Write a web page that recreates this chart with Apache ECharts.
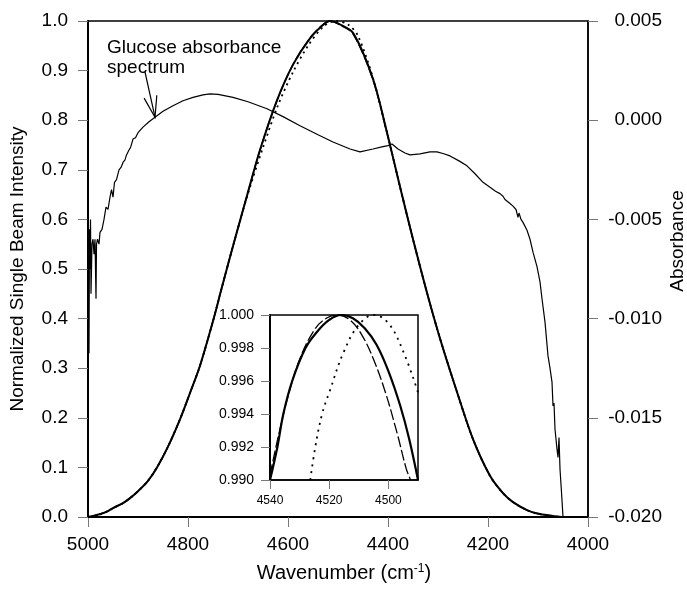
<!DOCTYPE html>
<html>
<head>
<meta charset="utf-8">
<script src="https://cdn.jsdelivr.net/npm/echarts@6/dist/echarts.min.js"></script>
<style>
  html, body { margin: 0; background: #fff; }
  #chart { width: 687px; height: 593px; }
</style>
</head>
<body>
<div id="chart"></div>
<script>
// main x axis ticks (wavenumber, cm-1)
const xTicks = [5000, 4800, 4600, 4400, 4200, 4000];
const insetXTicks = [4540, 4520, 4500];

// glucose absorbance spectrum (right axis)
const glucoseWn = [5000, 4999, 4998, 4997, 4996, 4995, 4994, 4992, 4990, 4988, 4986, 4984, 4983, 4981, 4978, 4976, 4972, 4968, 4964, 4960,
  4956, 4953, 4950, 4947, 4943, 4938, 4934, 4930, 4926, 4923, 4918, 4915, 4910, 4905, 4900, 4890, 4878, 4866, 4850, 4830,
  4810, 4790, 4770, 4756, 4740, 4710, 4680, 4642, 4610, 4576, 4540, 4510, 4476, 4456, 4430, 4410, 4400, 4392, 4380, 4366,
  4356, 4336, 4316, 4302, 4290, 4276, 4258, 4242, 4226, 4210, 4196, 4185, 4176, 4170, 4166, 4162, 4156, 4150, 4144, 4140,
  4138, 4134, 4130, 4122, 4116, 4110, 4102, 4096, 4092, 4086, 4080, 4076, 4072, 4070, 4068, 4066, 4062, 4060, 4058, 4056,
  4053, 4050, 4000];
const glucoseAbs = [-0.0045, -0.0100, -0.01175, -0.0055, -0.0075, -0.0050, -0.00875, -0.00625, -0.0060, -0.00675, -0.0060, -0.0090, -0.00625, -0.0060, -0.00625, -0.00565, -0.0055, -0.0050, -0.00438, -0.0045,
  -0.00388, -0.0035, -0.00388, -0.00313, -0.0030, -0.0025, -0.00238, -0.00213, -0.0020, -0.00175, -0.0015, -0.00138, -0.00095, -0.00088, -0.00063, -0.00035, -0.00008, 0.00015, 0.00045, 0.00073,
  0.00098, 0.00115, 0.00128, 0.00133, 0.0013, 0.00115, 0.00093, 0.00058, 0.00018, -0.00028, -0.00073, -0.0011, -0.00145, -0.0016, -0.00145, -0.00133, -0.00128, -0.0012, -0.00145, -0.00165,
  -0.00175, -0.0017, -0.0016, -0.0016, -0.00168, -0.0018, -0.00205, -0.0023, -0.0027, -0.00313, -0.00338, -0.00358, -0.0037, -0.00383, -0.0040, -0.00398, -0.0042, -0.00433, -0.0045, -0.0049,
  -0.00468, -0.0050, -0.00515, -0.00555, -0.0060, -0.00665, -0.00738, -0.00815, -0.0090, -0.01018, -0.01188, -0.0125, -0.0132, -0.0144, -0.01425, -0.01558, -0.01658, -0.0170, -0.0160, -0.01758,
  -0.01875, -0.0200, -0.0200];

// normalized single beam intensity: solid, long-dash and dotted curves (left axis)
const beamWn = [5000, 4990, 4975, 4960, 4950, 4930, 4916, 4900, 4880, 4862, 4840, 4816, 4796, 4776, 4750, 4733, 4709, 4680, 4656, 4622,
  4590, 4556, 4530, 4516, 4500, 4470, 4430, 4402, 4376, 4350, 4322, 4296, 4262, 4230, 4196, 4170, 4150, 4120, 4096, 4070, 4050, 4000];
const solidBeam = [0, 0.002, 0.006, 0.012, 0.018, 0.028, 0.038, 0.052, 0.073, 0.10, 0.142, 0.197, 0.25, 0.305, 0.395, 0.46, 0.55, 0.655, 0.74, 0.84,
  0.912, 0.965, 0.992, 1.0, 0.995, 0.976, 0.883, 0.775, 0.666, 0.56, 0.452, 0.36, 0.252, 0.157, 0.083, 0.048, 0.03, 0.013, 0.006, 0.002, 0, 0];
const dashBeam = [0, 0.002, 0.006, 0.012, 0.018, 0.028, 0.038, 0.052, 0.073, 0.10, 0.142, 0.197, 0.25, 0.305, 0.395, 0.46, 0.55, 0.655, 0.74, 0.84,
  0.912, 0.966, 0.993, 1.0, 0.994, 0.974, 0.881, 0.774, 0.666, 0.56, 0.452, 0.36, 0.252, 0.157, 0.083, 0.048, 0.03, 0.013, 0.006, 0.002, 0, 0];
const dotWn = [5000, 4990, 4975, 4960, 4950, 4930, 4916, 4900, 4880, 4862, 4840, 4816, 4796, 4776, 4750, 4733, 4709, 4680, 4650, 4620,
  4590, 4560, 4530, 4505, 4480, 4460, 4430, 4402, 4376, 4350, 4322, 4296, 4262, 4230, 4196, 4170, 4150, 4120, 4096, 4070, 4050, 4000];
const dotBeam = [0, 0.002, 0.006, 0.012, 0.018, 0.028, 0.038, 0.052, 0.073, 0.10, 0.142, 0.197, 0.25, 0.305, 0.395, 0.46, 0.55, 0.652, 0.745, 0.83,
  0.897, 0.95, 0.988, 1.0, 0.993, 0.97, 0.885, 0.775, 0.666, 0.56, 0.452, 0.36, 0.252, 0.157, 0.083, 0.048, 0.03, 0.013, 0.006, 0.002, 0, 0];

// inset: close-up of the peak
const insetSolidWn = [4540, 4537.5, 4535.5, 4532.5, 4528, 4524, 4520, 4516, 4512, 4508, 4504, 4500, 4496, 4493, 4490];
const insetSolid = [0.990, 0.992, 0.994, 0.996, 0.998, 0.999, 0.9997, 1.000, 0.9998, 0.9992, 0.9982, 0.9966, 0.9945, 0.9925, 0.990];
const insetDashWn = [4540, 4537, 4534, 4530, 4525, 4521, 4517, 4513, 4509, 4505, 4501, 4497, 4494, 4492.5];
const insetDash = [0.9903, 0.9928, 0.995, 0.9973, 0.9991, 0.9998, 1.000, 0.9997, 0.9988, 0.9973, 0.9953, 0.9928, 0.9907, 0.990];
const insetDotWn = [4526.4, 4524.7, 4522.4, 4520, 4515, 4510, 4505, 4500, 4495, 4490];
const insetDot = [0.990, 0.992, 0.994, 0.9953, 0.9978, 0.9994, 1.000, 0.9995, 0.9978, 0.9953];

const zip = (xs, ys) => xs.map((x, i) => [x, ys[i]]);
const FONT = '"Liberation Sans", Arial, sans-serif';

const chart = echarts.init(document.getElementById('chart'));

const tick = { show: true, length: 10, lineStyle: { color: '#777', width: 1 } };
const curve = (name, xi, yi, data, width, type, smooth) => ({
  name, type: 'line', xAxisIndex: xi, yAxisIndex: yi, data, symbol: 'none',
  smooth, lineStyle: { color: '#000', width, type }
});

const option = {
  animation: false,
  backgroundColor: '#fff',
  textStyle: { fontFamily: FONT, color: '#000' },
  grid: [
    { left: 88, top: 21, right: 99, bottom: 76, outerBoundsMode: 'none', containLabel: false,
      show: true, borderColor: '#000', borderWidth: 1.5, backgroundColor: 'transparent' },
    { left: 270, top: 315, width: 148, height: 165, outerBoundsMode: 'none', containLabel: false,
      show: true, borderColor: '#000', borderWidth: 1.5, backgroundColor: '#fff' }
  ],
  xAxis: [
    {
      gridIndex: 0, type: 'value', min: 4000, max: 5000, interval: 200, inverse: true,
      axisLine: { onZero: false, lineStyle: { color: '#000', width: 2 } },
      axisTick: tick,
      axisLabel: { fontSize: 19, color: '#000', margin: 18, fontFamily: FONT,
        customValues: xTicks, formatter: v => String(v) },
      splitLine: { show: false },
      name: 'Wavenumber (cm{sup|-1})', nameLocation: 'middle', nameGap: 46,
      nameTextStyle: { fontSize: 20, color: '#000', fontFamily: FONT, padding: [0, 0, 0, 12],
        rich: { sup: { fontSize: 12, verticalAlign: 'top', color: '#000', fontFamily: FONT, padding: [0, 0, 8, 0] } } }
    },
    {
      gridIndex: 1, type: 'value', min: 4490, max: 4540, inverse: true,
      axisLine: { onZero: false, lineStyle: { color: '#000', width: 1.5 } },
      axisTick: { show: true, length: 9, customValues: insetXTicks, lineStyle: { color: '#777' } },
      axisLabel: { fontSize: 12, color: '#000', margin: 15, fontFamily: FONT, customValues: insetXTicks, formatter: v => String(v) },
      splitLine: { show: false }
    }
  ],
  yAxis: [
    {
      gridIndex: 0, type: 'value', position: 'left', min: 0, max: 1, interval: 0.1,
      axisLine: { show: true, onZero: false, lineStyle: { color: '#000', width: 2 } },
      axisTick: tick,
      axisLabel: { fontSize: 19, color: '#000', margin: 20, fontFamily: FONT, formatter: v => v.toFixed(1) },
      splitLine: { show: false },
      name: 'Normalized Single Beam Intensity', nameLocation: 'middle', nameGap: 61,
      nameTextStyle: { fontSize: 19, color: '#000', fontFamily: FONT }
    },
    {
      gridIndex: 0, type: 'value', position: 'right', min: -0.02, max: 0.005, interval: 0.005,
      axisLine: { show: true, onZero: false, lineStyle: { color: '#000', width: 1.5 } },
      axisTick: tick,
      axisLabel: { fontSize: 19, color: '#000', margin: 74, align: 'right', fontFamily: FONT,
        formatter: v => (Math.abs(v) < 1e-9 ? 0 : v).toFixed(3) },
      splitLine: { show: false },
      name: 'Absorbance', nameLocation: 'middle', nameGap: 80, nameMoveOverlap: false,
      nameTextStyle: { fontSize: 19, color: '#000', fontFamily: FONT, padding: [0, 0, 0, 56] }
    },
    {
      gridIndex: 1, type: 'value', min: 0.990, max: 1.000, interval: 0.002,
      axisLine: { show: true, onZero: false, lineStyle: { color: '#000', width: 2 } },
      axisTick: { show: true, length: 9, lineStyle: { color: '#777' } },
      axisLabel: { fontSize: 14, color: '#000', margin: 16, fontFamily: FONT, formatter: v => v.toFixed(3) },
      splitLine: { show: false }
    }
  ],
  series: [
    curve('glucose', 0, 1, zip(glucoseWn, glucoseAbs), 1.2, 'solid', false),
    curve('solid', 0, 0, zip(beamWn, solidBeam), 2, 'solid', 0.3),
    curve('dash', 0, 0, zip(beamWn, dashBeam), 1.4, [10, 3], 0.3),
    curve('dot', 0, 0, zip(dotWn, dotBeam), 1.8, [2, 4], 0.3),
    curve('inset solid', 1, 2, zip(insetSolidWn, insetSolid), 2.2, 'solid', 0.4),
    curve('inset dash', 1, 2, zip(insetDashWn, insetDash), 1.3, [11, 3], 0.4),
    curve('inset dot', 1, 2, zip(insetDotWn, insetDot), 1.8, [2, 5], 0.4)
  ]
};
chart.setOption(option);

// annotation arrow pointing at the glucose curve
const k = glucoseWn.indexOf(4866);
const tip = chart.convertToPixel({ xAxisIndex: 0, yAxisIndex: 1 }, [glucoseWn[k], glucoseAbs[k]]);
const start = [145, 72];
const dx = start[0] - tip[0], dy = start[1] - tip[1];
const len = Math.hypot(dx, dy);
const ux = dx / len, uy = dy / len;
const wing = (ang) => {
  const c = Math.cos(ang), s = Math.sin(ang);
  return [tip[0] + 22 * (ux * c - uy * s), tip[1] + 22 * (ux * s + uy * c)];
};
chart.setOption({
  graphic: [
    { type: 'text', left: 107, top: 38, style: { text: 'Glucose absorbance\nspectrum', font: '19px ' + FONT, fill: '#000', lineHeight: 20 } },
    { type: 'polyline', shape: { points: [start, tip] }, style: { stroke: '#000', lineWidth: 1.2, fill: null } },
    { type: 'polyline', shape: { points: [wing(0.3), tip, wing(-0.3)] }, style: { stroke: '#000', lineWidth: 1.2, fill: null } }
  ]
});
</script>
</body>
</html>
